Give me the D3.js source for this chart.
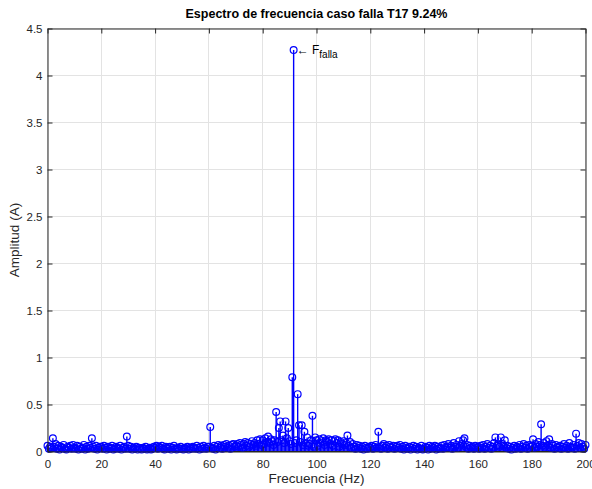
<!DOCTYPE html>
<html>
<head>
<meta charset="utf-8">
<script src="https://cdn.jsdelivr.net/npm/d3@7"></script>
<style>
  html, body { margin: 0; padding: 0; background: #ffffff; }
  svg { display: block; font-family: "Liberation Sans", Arial, Helvetica, sans-serif; }
</style>
</head>
<body>
<svg id="chart" width="592" height="489"></svg>
<script>
// ---- Data ----
const titleText = "Espectro de frecuencia caso falla T17 9.24%";
const xLabelText = "Frecuencia (Hz)";
const yLabelText = "Amplitud (A)";
const xTicks = [0, 20, 40, 60, 80, 100, 120, 140, 160, 180, 200];
const yTicks = [0, 0.5, 1, 1.5, 2, 2.5, 3, 3.5, 4, 4.5];
const freqStep = 0.5; // Hz between spectral lines
const annotFreq = 91.5;
const annotValue = 4.27;

// Amplitudes for 0, 0.5, 1.0 ... 200 Hz (rows of 10 Hz)
const amp00 = [0.06,0.03,0.05,0.04,0.14,0.05,0.08,0.03,0.06,0.02,0.05,0.04,0.07,0.03,0.02,0.05,0.04,0.06,0.03,0.07];
const amp10 = [0.04,0.03,0.06,0.02,0.05,0.03,0.04,0.07,0.02,0.05,0.03,0.06,0.04,0.14,0.05,0.03,0.06,0.02,0.04,0.05];
const amp20 = [0.05,0.03,0.06,0.04,0.02,0.05,0.03,0.04,0.06,0.02,0.03,0.05,0.04,0.03,0.06,0.02,0.04,0.05,0.03,0.16];
const amp30 = [0.06,0.03,0.05,0.02,0.04,0.03,0.05,0.02,0.04,0.03,0.02,0.04,0.03,0.05,0.02,0.03,0.04,0.02,0.03,0.05];
const amp40 = [0.04,0.06,0.03,0.05,0.04,0.06,0.03,0.02,0.05,0.04,0.03,0.05,0.02,0.04,0.06,0.03,0.02,0.04,0.03,0.05];
const amp50 = [0.03,0.02,0.04,0.03,0.05,0.02,0.04,0.03,0.05,0.04,0.03,0.06,0.04,0.02,0.05,0.03,0.06,0.04,0.03,0.05];
const amp60 = [0.05,0.26,0.04,0.03,0.06,0.02,0.05,0.07,0.04,0.06,0.03,0.07,0.05,0.08,0.04,0.06,0.03,0.07,0.08,0.05];
const amp70 = [0.06,0.08,0.05,0.09,0.07,0.04,0.08,0.10,0.06,0.09,0.05,0.08,0.11,0.07,0.09,0.06,0.12,0.08,0.13,0.07];
const amp80 = [0.12,0.08,0.14,0.10,0.16,0.09,0.13,0.11,0.07,0.12,0.42,0.10,0.25,0.32,0.12,0.17,0.09,0.32,0.14,0.25];
const amp90 = [0.11,0.08,0.79,4.27,0.09,0.12,0.61,0.28,0.10,0.28,0.07,0.21,0.09,0.15,0.06,0.08,0.12,0.38,0.05,0.15];
const amp100 = [0.12,0.06,0.13,0.09,0.11,0.14,0.07,0.12,0.10,0.13,0.08,0.12,0.06,0.11,0.13,0.09,0.12,0.05,0.10,0.08];
const amp110 = [0.11,0.07,0.09,0.17,0.06,0.10,0.04,0.08,0.05,0.03,0.07,0.04,0.06,0.03,0.05,0.02,0.06,0.04,0.03,0.05];
const amp120 = [0.04,0.06,0.03,0.05,0.07,0.04,0.21,0.05,0.03,0.06,0.08,0.04,0.06,0.03,0.07,0.05,0.04,0.06,0.03,0.05];
const amp130 = [0.06,0.04,0.07,0.03,0.05,0.02,0.06,0.04,0.03,0.05,0.02,0.04,0.06,0.03,0.05,0.02,0.04,0.03,0.06,0.02];
const amp140 = [0.03,0.05,0.04,0.02,0.06,0.03,0.05,0.04,0.06,0.02,0.05,0.03,0.04,0.06,0.03,0.07,0.04,0.05,0.08,0.04];
const amp150 = [0.06,0.03,0.09,0.05,0.07,0.04,0.11,0.06,0.08,0.12,0.14,0.05,0.07,0.03,0.06,0.04,0.05,0.03,0.06,0.04];
const amp160 = [0.05,0.03,0.06,0.04,0.07,0.03,0.05,0.08,0.04,0.06,0.03,0.05,0.09,0.15,0.06,0.07,0.05,0.15,0.08,0.06];
const amp170 = [0.12,0.04,0.06,0.03,0.05,0.02,0.04,0.06,0.03,0.05,0.04,0.07,0.03,0.05,0.08,0.04,0.06,0.03,0.07,0.05];
const amp180 = [0.06,0.13,0.04,0.08,0.05,0.10,0.07,0.29,0.06,0.09,0.05,0.11,0.07,0.13,0.04,0.08,0.06,0.03,0.07,0.05];
const amp190 = [0.04,0.06,0.03,0.05,0.08,0.04,0.06,0.03,0.09,0.05,0.04,0.07,0.03,0.19,0.06,0.09,0.04,0.08,0.05,0.03];
const amp200 = [0.07];

const amplitudes = [].concat(amp00, amp10, amp20, amp30, amp40, amp50, amp60, amp70, amp80, amp90,
  amp100, amp110, amp120, amp130, amp140, amp150, amp160, amp170, amp180, amp190, amp200);
const spectrum = amplitudes.map((a, i) => ({ f: i * freqStep, a: a }));

// ---- Layout ----
const svg = d3.select("#chart");
const L = 47.5, R = 585.5, T = 28.5, B = 451.5;
const x = d3.scaleLinear().domain([0, 200]).range([L, R]);
const y = d3.scaleLinear().domain([0, 4.5]).range([B, T]);
const axisColor = "#262626";
const px = v => Math.round(v - 0.5) + 0.5;

// grid
const grid = svg.append("g");
grid.selectAll("line.gx").data(xTicks).enter().append("line")
  .attr("x1", d => px(x(d))).attr("x2", d => px(x(d)))
  .attr("y1", T).attr("y2", B)
  .attr("stroke", "#e3e3e3").attr("stroke-width", 1);
grid.selectAll("line.gy").data(yTicks).enter().append("line")
  .attr("y1", d => px(y(d))).attr("y2", d => px(y(d)))
  .attr("x1", L).attr("x2", R)
  .attr("stroke", "#e3e3e3").attr("stroke-width", 1);

// stems
const stemColor = "#0000ff";
svg.append("g").selectAll("line").data(spectrum).enter().append("line")
  .attr("x1", d => x(d.f)).attr("x2", d => x(d.f))
  .attr("y1", y(0)).attr("y2", d => y(d.a))
  .attr("stroke", stemColor).attr("stroke-width", 1.4);

// baseline
svg.append("line").attr("x1", L).attr("x2", R).attr("y1", y(0)).attr("y2", y(0))
  .attr("stroke", axisColor).attr("stroke-width", 1);

// markers
svg.append("g").selectAll("circle").data(spectrum).enter().append("circle")
  .attr("cx", d => x(d.f)).attr("cy", d => y(d.a)).attr("r", 3.4)
  .attr("fill", "none").attr("stroke", stemColor).attr("stroke-width", 1.2);

// axes (box with inward ticks)
const xAxisB = d3.axisBottom(x).tickValues(xTicks).tickSizeInner(-5).tickSizeOuter(0).tickPadding(8).tickFormat(d3.format("d"));
const xAxisT = d3.axisTop(x).tickValues(xTicks).tickSizeInner(-5).tickSizeOuter(0).tickFormat("");
const yAxisL = d3.axisLeft(y).tickValues(yTicks).tickSizeInner(-5).tickSizeOuter(0).tickPadding(5).tickFormat(d => d3.format("")(d));
const yAxisR = d3.axisRight(y).tickValues(yTicks).tickSizeInner(-5).tickSizeOuter(0).tickFormat("");

function styleAxis(g) {
  g.select(".domain").attr("stroke", axisColor).attr("stroke-width", 1);
  g.selectAll(".tick line").attr("stroke", axisColor).attr("stroke-width", 1);
  g.selectAll(".tick text").attr("fill", "#262626").style("font-size", "11.5px")
    .style("font-family", "'Liberation Sans', Arial, Helvetica, sans-serif");
}
svg.append("g").attr("transform", `translate(0,${B})`).call(xAxisB).call(styleAxis);
svg.append("g").attr("transform", `translate(0,${T})`).call(xAxisT).call(styleAxis);
svg.append("g").attr("transform", `translate(${L},0)`).call(yAxisL).call(styleAxis);
svg.append("g").attr("transform", `translate(${R},0)`).call(yAxisR).call(styleAxis);

// title & labels
svg.append("text").attr("x", (L + R) / 2).attr("y", 18).attr("text-anchor", "middle")
  .style("font-size", "12.5px").style("font-weight", "bold").attr("fill", "#000")
  .text(titleText);
svg.append("text").attr("x", (L + R) / 2).attr("y", 483).attr("text-anchor", "middle")
  .style("font-size", "13.5px").attr("fill", "#262626").text(xLabelText);
svg.append("text").attr("transform", `translate(19,${(T + B) / 2}) rotate(-90)`).attr("text-anchor", "middle")
  .style("font-size", "13.5px").attr("fill", "#262626").text(yLabelText);

// annotation
const ann = svg.append("text").attr("x", x(annotFreq) + 3).attr("y", y(annotValue) + 3.5)
  .style("font-size", "12px").attr("fill", "#000");
ann.append("tspan").text("\u2190 F");
ann.append("tspan").attr("dy", 4).style("font-size", "10px").text("falla");
</script>
</body>
</html>
